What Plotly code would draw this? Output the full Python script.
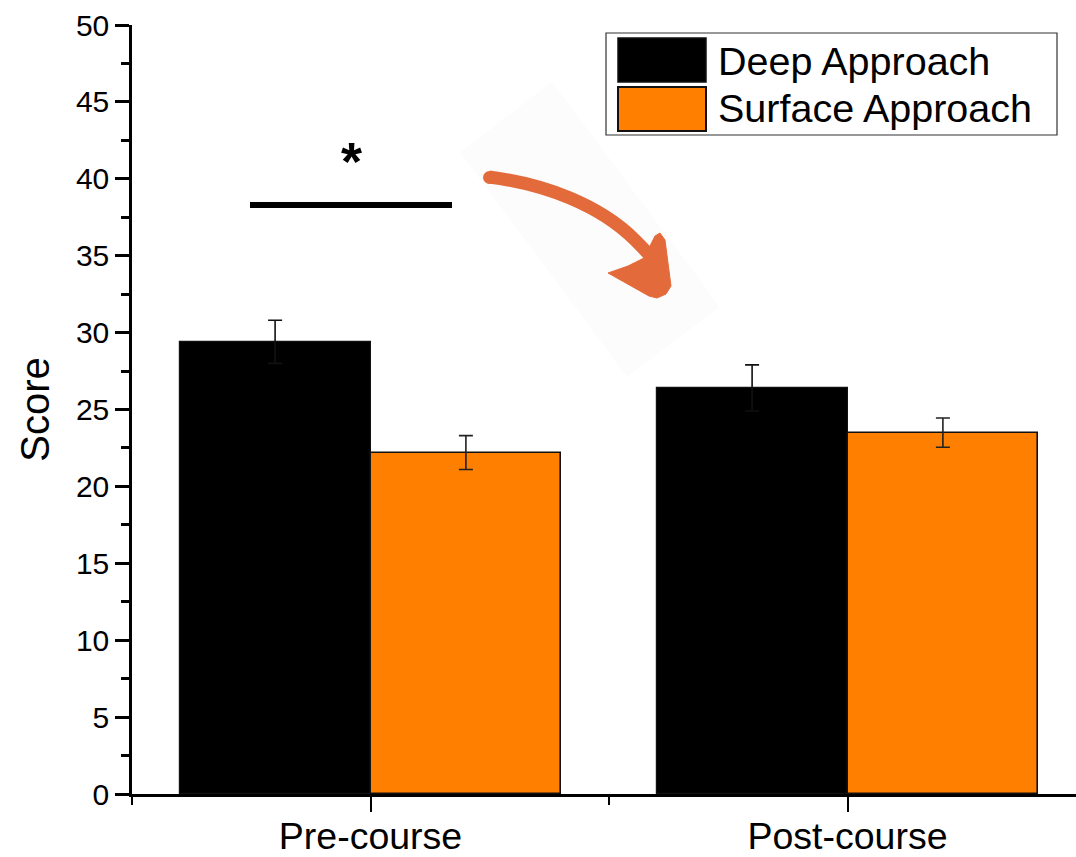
import plotly.graph_objects as go

# ---- data ----
categories = ["Pre-course", "Post-course"]
cat_pos = [1, 2]
deep_scores = [29.4, 26.4]
deep_err = [1.4, 1.5]
surface_scores = [22.2, 23.5]
surface_err = [1.1, 0.95]
series_names = ["Deep Approach", "Surface Approach"]

FONT = "Arial, Liberation Sans, sans-serif"
BLACK = "#000000"
ORANGE = "#FF8000"
ARROW = "#E36B3B"

# pixel -> data helpers (for decorations only)
def X(px):
    return 1 + (px - 370.5) / 477.0

def Y(py):
    return (794 - py) / 15.38

fig = go.Figure()
fig.add_trace(go.Bar(
    x=cat_pos, y=deep_scores, width=0.4, offset=-0.4,
    marker=dict(color=BLACK, line=dict(color="#111111", width=1.2)),
    error_y=dict(type="data", array=deep_err, color="#111111", thickness=1.6, width=7),
    name=series_names[0], showlegend=False,
))
fig.add_trace(go.Bar(
    x=cat_pos, y=surface_scores, width=0.4, offset=0,
    marker=dict(color=ORANGE, line=dict(color="#111111", width=1.6)),
    error_y=dict(type="data", array=surface_err, color="#222222", thickness=1.6, width=7),
    name=series_names[1], showlegend=False,
))

shapes = []
# faint rotated background panel behind arrow
pts = [(460, 152), (552, 82), (720, 307), (627, 377)]
path = "M " + " L ".join(f"{X(a)},{Y(b)}" for a, b in pts) + " Z"
shapes.append(dict(type="path", path=path, xref="x", yref="y", fillcolor="#FCFCFC",
                   line=dict(width=0), layer="below"))
# curved arrow body
c = [(489, 177), (545, 184), (600, 205), (635, 240), (650, 270)]
path = (f"M {X(c[0][0])},{Y(c[0][1])} C {X(c[1][0])},{Y(c[1][1])} "
        f"{X(c[2][0])},{Y(c[2][1])} {X(c[3][0])},{Y(c[3][1])} "
        f"S {X(652)},{Y(262)} {X(c[4][0])},{Y(c[4][1])}")
shapes.append(dict(type="path", path=path, xref="x", yref="y",
                   line=dict(color=ARROW, width=13)))
# rounded start cap
shapes.append(dict(type="circle", xref="x", yref="y",
                   x0=X(483), x1=X(496), y0=Y(171), y1=Y(184),
                   fillcolor=ARROW, line=dict(width=0)))
# arrowhead
head = [(608, 273), (628, 266), (644, 258), (655, 236), (660, 233), (665, 240),
        (671, 286), (666, 294), (657, 298), (649, 296)]
path = "M " + " L ".join(f"{X(a)},{Y(b)}" for a, b in head) + " Z"
shapes.append(dict(type="path", path=path, xref="x", yref="y",
                   fillcolor=ARROW, line=dict(color=ARROW, width=1)))
# significance bar
shapes.append(dict(type="line", xref="x", yref="y", x0=X(250), x1=X(452),
                   y0=Y(205), y1=Y(205), line=dict(color="black", width=6)))
# legend box
shapes.append(dict(type="rect", xref="x", yref="y", x0=X(606), x1=X(1057),
                   y0=Y(33), y1=Y(135), fillcolor="white",
                   line=dict(color="#333333", width=1.2)))
shapes.append(dict(type="rect", xref="x", yref="y", x0=X(618), x1=X(706),
                   y0=Y(38), y1=Y(82), fillcolor=BLACK, line=dict(color="#111111", width=1.5)))
shapes.append(dict(type="rect", xref="x", yref="y", x0=X(618), x1=X(706),
                   y0=Y(87), y1=Y(131), fillcolor=ORANGE, line=dict(color="#111111", width=2)))

annotations = [
    dict(x=X(351), y=Y(161), xref="x", yref="y", text="<b>*</b>", showarrow=False,
         font=dict(family=FONT, size=54, color="black"), xanchor="center", yanchor="middle"),
    dict(x=X(716), y=Y(61), xref="x", yref="y", text=series_names[0], showarrow=False,
         font=dict(family=FONT, size=39.5, color="black"), xanchor="left", yanchor="middle"),
    dict(x=X(716), y=Y(108), xref="x", yref="y", text=series_names[1], showarrow=False,
         font=dict(family=FONT, size=39.5, color="black"), xanchor="left", yanchor="middle"),
]

fig.update_layout(
    width=1076, height=857,
    margin=dict(l=132, r=0, t=25, b=63),
    paper_bgcolor="white", plot_bgcolor="white",
    shapes=shapes, annotations=annotations,
    bargap=0, showlegend=False,
    font=dict(family=FONT, color="black"),
)
fig.update_xaxes(
    range=[X(132), X(1076)], automargin=False,
    tickmode="array", tickvals=cat_pos, ticktext=categories,
    ticks="outside", ticklen=15, tickwidth=2, tickcolor="black",
    ticklabelstandoff=-8,
    minor=dict(tickmode="array", tickvals=[0.5, 1.5, 2.5], ticks="outside",
               ticklen=8, tickwidth=2, tickcolor="black"),
    showline=True, linecolor="black", linewidth=2.5,
    showgrid=False, zeroline=False,
    tickfont=dict(family=FONT, size=37.5, color="black"),
)
fig.update_yaxes(
    range=[0, 50], dtick=5, tick0=0, automargin=False,
    ticks="outside", ticklen=14, tickwidth=2.5, tickcolor="black",
    minor=dict(dtick=2.5, ticks="outside", ticklen=8, tickwidth=2.5, tickcolor="black"),
    showline=True, linecolor="black", linewidth=2.5,
    showgrid=False, zeroline=False,
    tickfont=dict(family=FONT, size=30, color="black"),
    title=dict(text="Score", font=dict(family=FONT, size=40, color="black"), standoff=14),
)

fig.write_html("out.html", config={"displayModeBar": False},
               post_script="document.body.style.margin='0';document.body.style.overflow='hidden';")
